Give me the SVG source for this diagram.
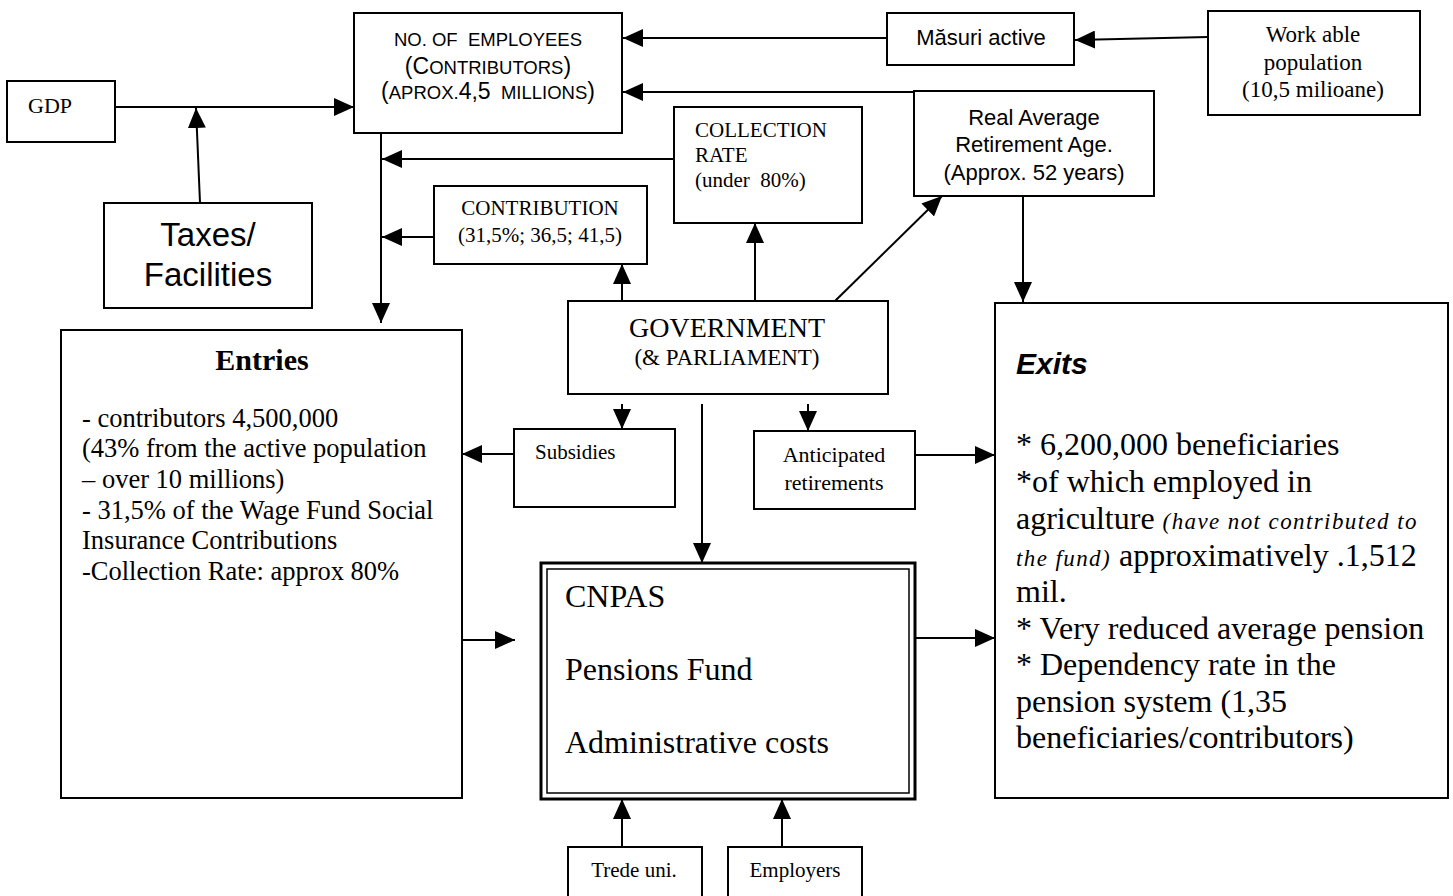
<svg xmlns="http://www.w3.org/2000/svg" width="1453" height="896" viewBox="0 0 1453 896">
<style>
.box{fill:#fff;stroke:#000;stroke-width:2}
.ser{font-family:"Liberation Serif","Times New Roman",serif;fill:#000}
.san{font-family:"Liberation Sans",Arial,sans-serif;fill:#000}
.c{text-anchor:middle}
.pre{white-space:pre}
.it{font-size:23px;font-style:italic;letter-spacing:1.4px}
.con path{fill:none;stroke:#000;stroke-width:2}
</style>
<defs>
<marker id="ah" markerUnits="userSpaceOnUse" markerWidth="20" markerHeight="18" refX="20" refY="9" orient="auto" viewBox="0 0 20 18">
<path d="M0,0 L20,9 L0,18 Z" fill="#000"/>
</marker>
</defs>
<rect width="1453" height="896" fill="#fff"/>

<g id="employees">
<rect class="box" x="354" y="13" width="268" height="120"/>
<text class="san c pre" x="488" y="46" font-size="18.5">NO. OF  EMPLOYEES</text>
<text class="san c" x="488" y="74" font-size="23">(C<tspan font-size="18.5">ONTRIBUTORS</tspan>)</text>
<text class="san c pre" x="488" y="99" font-size="23">(<tspan font-size="18.5">APROX.</tspan>4,5<tspan font-size="18.5">  MILLIONS</tspan>)</text>
</g>

<g id="masuri">
<rect class="box" x="887" y="13" width="187" height="52"/>
<text class="san c" x="981" y="45" font-size="22">Măsuri active</text>
</g>

<g id="workable">
<rect class="box" x="1208" y="11" width="212" height="104"/>
<text class="ser c" x="1313" y="42" font-size="23">Work able</text>
<text class="ser c" x="1313" y="70" font-size="23">population</text>
<text class="ser c" x="1313" y="97" font-size="23">(10,5 milioane)</text>
</g>

<g id="gdp">
<rect class="box" x="7" y="81" width="108" height="61"/>
<text class="ser" x="28" y="113" font-size="22">GDP</text>
</g>

<g id="taxes">
<rect class="box" x="104" y="203" width="208" height="105"/>
<text class="san c" x="208" y="246" font-size="33">Taxes/</text>
<text class="san c" x="208" y="286" font-size="33">Facilities</text>
</g>

<g id="collection">
<rect class="box" x="674" y="107" width="188" height="116"/>
<text class="ser" x="695" y="137" font-size="21">COLLECTION</text>
<text class="ser" x="695" y="162" font-size="21">RATE</text>
<text class="ser pre" x="695" y="187" font-size="21">(under  80%)</text>
</g>

<g id="contribution">
<rect class="box" x="434" y="186" width="213" height="78"/>
<text class="ser c" x="540" y="215" font-size="21">CONTRIBUTION</text>
<text class="ser c" x="540" y="242" font-size="21">(31,5%; 36,5; 41,5)</text>
</g>

<g id="realage">
<rect class="box" x="914" y="91" width="240" height="105"/>
<text class="san c" x="1034" y="125" font-size="22">Real Average</text>
<text class="san c" x="1034" y="152" font-size="22">Retirement Age.</text>
<text class="san c" x="1034" y="180" font-size="22">(Approx. 52 years)</text>
</g>

<g id="government">
<rect class="box" x="568" y="301" width="320" height="93"/>
<text class="ser c" x="727" y="337" font-size="28">GOVERNMENT</text>
<text class="ser c" x="727" y="365" font-size="23">(&amp; PARLIAMENT)</text>
</g>

<g id="entries">
<rect class="box" x="61" y="330" width="401" height="468" stroke-width="2.5"/>
<text class="ser c" x="262" y="370" font-size="30" font-weight="bold">Entries</text>
<text class="ser" x="82" y="427" font-size="26.5">- contributors 4,500,000</text>
<text class="ser" x="82" y="457" font-size="26.5">(43% from the active population</text>
<text class="ser" x="82" y="488" font-size="26.5">– over 10 millions)</text>
<text class="ser" x="82" y="519" font-size="26.5">- 31,5% of the Wage Fund Social</text>
<text class="ser" x="82" y="549" font-size="26.5">Insurance Contributions</text>
<text class="ser" x="82" y="580" font-size="26.5">-Collection Rate: approx 80%</text>
</g>

<g id="exits">
<rect class="box" x="995" y="303" width="453" height="495" stroke-width="2.5"/>
<text class="san" x="1016" y="374" font-size="30" font-weight="bold" font-style="italic">Exits</text>
<text class="ser" x="1016" y="455" font-size="32">* 6,200,000 beneficiaries</text>
<text class="ser" x="1016" y="492" font-size="32">*of which employed in</text>
<text class="ser" x="1016" y="529" font-size="32">agriculture <tspan class="it">(have not contributed to</tspan></text>
<text class="ser" x="1016" y="566" font-size="32"><tspan class="it">the fund)</tspan> approximatively .1,512</text>
<text class="ser" x="1016" y="602" font-size="32">mil.</text>
<text class="ser" x="1016" y="639" font-size="32">* Very reduced average pension</text>
<text class="ser" x="1016" y="675" font-size="32">* Dependency rate in the</text>
<text class="ser" x="1016" y="712" font-size="32">pension system (1,35</text>
<text class="ser" x="1016" y="748" font-size="32">beneficiaries/contributors)</text>
</g>

<g id="subsidies">
<rect class="box" x="514" y="429" width="161" height="78"/>
<text class="ser" x="535" y="459" font-size="21">Subsidies</text>
</g>

<g id="anticipated">
<rect class="box" x="754" y="431" width="161" height="78"/>
<text class="ser c" x="834" y="462" font-size="22">Anticipated</text>
<text class="ser c" x="834" y="490" font-size="22">retirements</text>
</g>

<g id="cnpas">
<rect x="541" y="563" width="374" height="236" fill="#fff" stroke="#000" stroke-width="3"/>
<rect x="547" y="569" width="362" height="224" fill="none" stroke="#000" stroke-width="1.5"/>
<text class="ser" x="565" y="607" font-size="32">CNPAS</text>
<text class="ser" x="565" y="680" font-size="32">Pensions Fund</text>
<text class="ser" x="565" y="753" font-size="32">Administrative costs</text>
</g>

<g id="tradeunions">
<rect class="box" x="568" y="847" width="134" height="60"/>
<text class="ser c" x="634" y="877" font-size="21">Trede uni.</text>
</g>

<g id="employers">
<rect class="box" x="728" y="847" width="134" height="60"/>
<text class="ser c" x="795" y="877" font-size="21">Employers</text>
</g>

<g id="connectors" class="con">
<path d="M115,107 H354" marker-end="url(#ah)"/>
<path d="M200,203 L196,108" marker-end="url(#ah)"/>
<path d="M887,38 H623" marker-end="url(#ah)"/>
<path d="M1208,37 L1075,40" marker-end="url(#ah)"/>
<path d="M914,92 H623" marker-end="url(#ah)"/>
<path d="M381,133 V323" marker-end="url(#ah)"/>
<path d="M674,159 H382" marker-end="url(#ah)"/>
<path d="M434,237 H382" marker-end="url(#ah)"/>
<path d="M622,301 V264" marker-end="url(#ah)"/>
<path d="M755,301 V223" marker-end="url(#ah)"/>
<path d="M835,301 L942,196" marker-end="url(#ah)"/>
<path d="M1023,196 V302" marker-end="url(#ah)"/>
<path d="M622,404 V429" marker-end="url(#ah)"/>
<path d="M808,404 V431" marker-end="url(#ah)"/>
<path d="M702,404 V563" marker-end="url(#ah)"/>
<path d="M514,454 H462" marker-end="url(#ah)"/>
<path d="M915,455 H995" marker-end="url(#ah)"/>
<path d="M462,640 H515" marker-end="url(#ah)"/>
<path d="M915,638 H995" marker-end="url(#ah)"/>
<path d="M622,847 V799" marker-end="url(#ah)"/>
<path d="M782,847 V799" marker-end="url(#ah)"/>
</g>
</svg>
